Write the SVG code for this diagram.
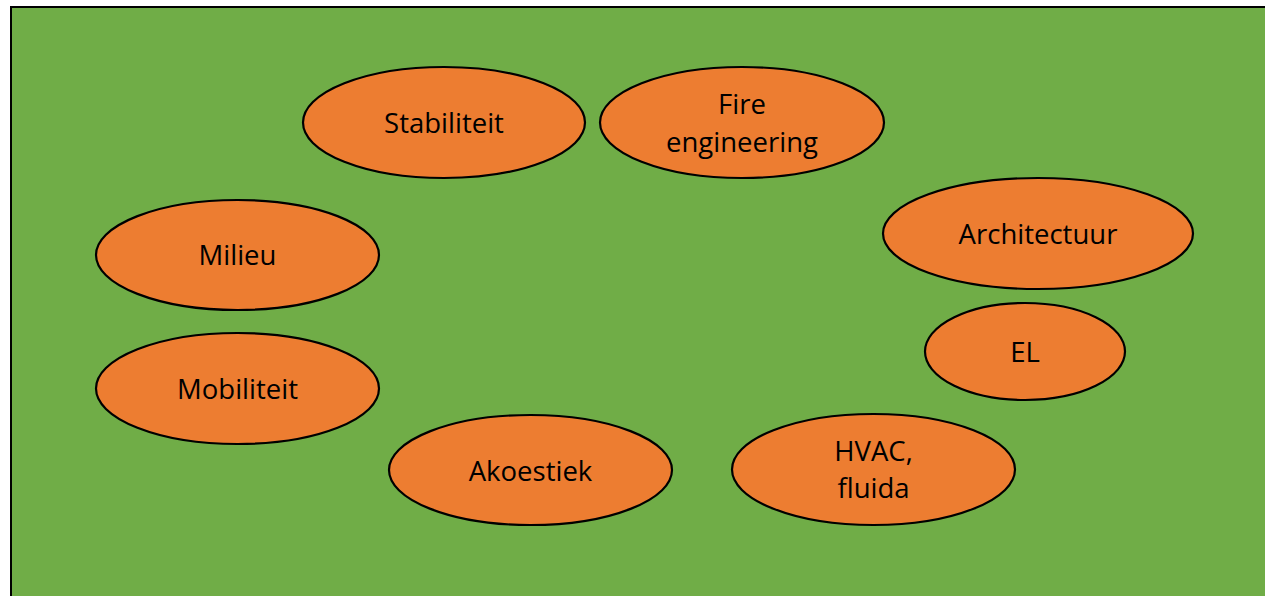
<svg xmlns="http://www.w3.org/2000/svg" width="1265" height="596" viewBox="0 0 1265 596">
<style>
.n ellipse{fill:#ed7d31;stroke:#000;stroke-width:2.2}
.n text{font-family:"Open Sans","Liberation Sans",sans-serif;font-size:27.5px;fill:#000;text-anchor:middle}
</style>
<rect x="0" y="0" width="1265" height="596" fill="#fff"/>
<rect x="11" y="7" width="1262" height="600" fill="#70ad47" stroke="#000" stroke-width="2"/>
<g id="connectors"></g>
<g id="stabiliteit" class="n"><ellipse cx="444" cy="122.5" rx="141" ry="55.5"/><text x="444" y="133">Stabiliteit</text></g>
<g id="fire" class="n"><ellipse cx="742" cy="122.5" rx="142" ry="55.5"/><text x="742" y="114">Fire</text><text x="742" y="152">engineering</text></g>
<g id="architectuur" class="n"><ellipse cx="1038" cy="233.5" rx="155" ry="55.5"/><text x="1038" y="244">Architectuur</text></g>
<g id="milieu" class="n"><ellipse cx="237.5" cy="255" rx="141.5" ry="55"/><text x="237.5" y="265">Milieu</text></g>
<g id="el" class="n"><ellipse cx="1025" cy="351.5" rx="100" ry="48.5"/><text x="1025" y="362">EL</text></g>
<g id="mobiliteit" class="n"><ellipse cx="237.5" cy="388.5" rx="141.5" ry="55.5"/><text x="237.5" y="399">Mobiliteit</text></g>
<g id="akoestiek" class="n"><ellipse cx="530.5" cy="470" rx="141.5" ry="55"/><text x="530.5" y="481">Akoestiek</text></g>
<g id="hvac" class="n"><ellipse cx="873.5" cy="469.5" rx="141.5" ry="55.5"/><text x="873.5" y="461">HVAC,</text><text x="873.5" y="498">fluida</text></g>
</svg>
